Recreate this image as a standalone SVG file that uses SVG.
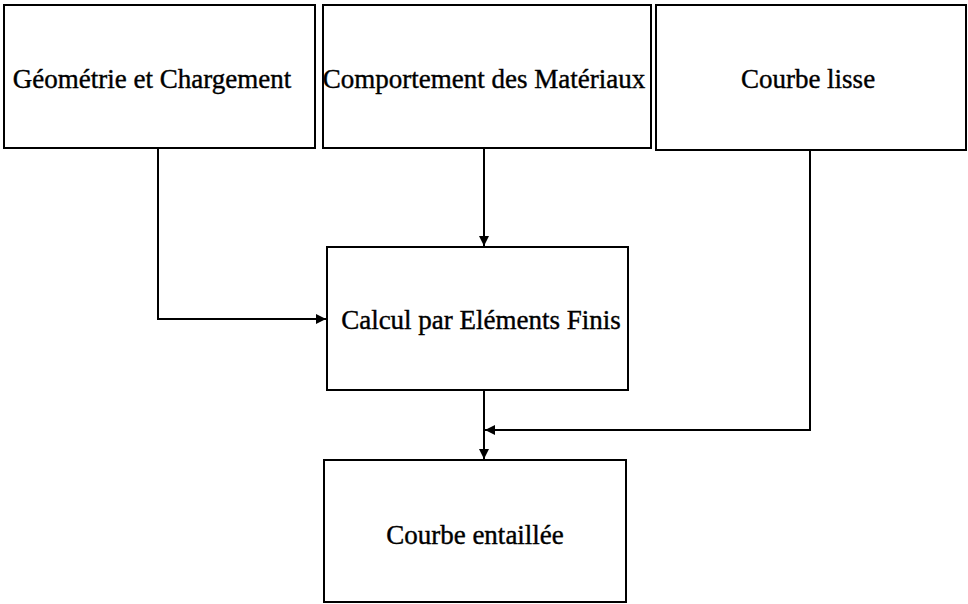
<svg xmlns="http://www.w3.org/2000/svg" width="968" height="604" viewBox="0 0 968 604">
<style>
.box{fill:#fff;stroke:#000;stroke-width:2}
.lbl{font-family:"Liberation Serif","Times New Roman",serif;font-size:27px;fill:#000;stroke:#000;stroke-width:0.4;text-anchor:middle}
.con{fill:none;stroke:#000;stroke-width:2}
</style>
<defs>
<marker id="ah" viewBox="0 0 10 10" refX="10" refY="5" markerWidth="10" markerHeight="10" markerUnits="userSpaceOnUse" orient="auto">
<path d="M0,0 L10,5 L0,10 z" fill="#000"/>
</marker>
</defs>
<rect width="968" height="604" fill="#fff"/>
<g id="geometrie">
<rect class="box" x="4" y="5" width="311" height="143"/>
<text class="lbl" x="152" y="88">Géométrie et Chargement</text>
</g>
<g id="comportement">
<rect class="box" x="323" y="5" width="328" height="143"/>
<text class="lbl" x="484" y="88">Comportement des Matériaux</text>
</g>
<g id="courbe-lisse">
<rect class="box" x="656" y="5" width="310" height="145"/>
<text class="lbl" x="808" y="88">Courbe lisse</text>
</g>
<g id="calcul">
<rect class="box" x="327" y="247" width="301" height="143"/>
<text class="lbl" x="481" y="329">Calcul par Eléments Finis</text>
</g>
<g id="courbe-entaillee">
<rect class="box" x="324" y="460" width="302" height="142"/>
<text class="lbl" x="475" y="544">Courbe entaillée</text>
</g>
<g id="connectors">
<path class="con" d="M158,148 V319 H326" marker-end="url(#ah)"/>
<path class="con" d="M484,148 V246" marker-end="url(#ah)"/>
<path class="con" d="M810,150 V430 H485" marker-end="url(#ah)"/>
<path class="con" d="M484,390 V459" marker-end="url(#ah)"/>
</g>
</svg>
